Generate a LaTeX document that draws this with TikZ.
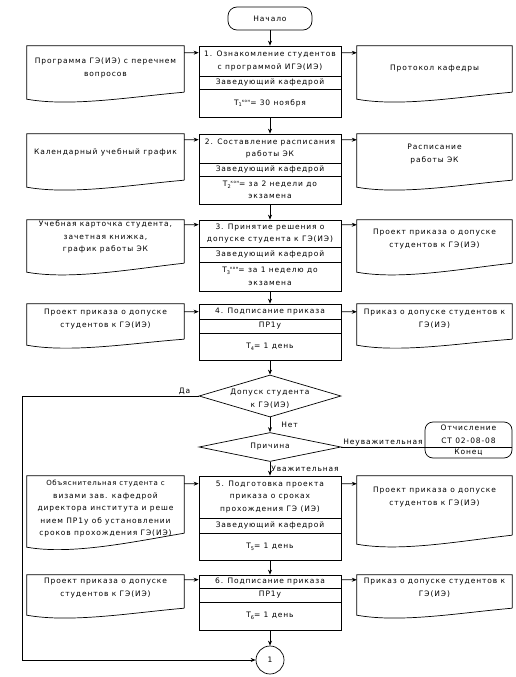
\documentclass[tikz,border=0pt]{standalone}
\usepackage{fontspec}
\setmainfont[LetterSpace=12]{DejaVu Sans}
\usetikzlibrary{arrows.meta,shapes.geometric,calc}
\newcommand\fnt{\fontsize{7.5pt}{12.5pt}\selectfont}
\newcommand\Tk[2]{T\raisebox{-1.8pt}{\fontsize{5pt}{5pt}\selectfont #1}\raisebox{3pt}{\fontsize{4pt}{4pt}\selectfont #2}}
\newcommand\Ts[1]{T\raisebox{-1.8pt}{\fontsize{5pt}{5pt}\selectfont #1}}
% name, top, d1, d2, bottom, title, manager, time
\newcommand\cbox[8]{%
  \node[box, minimum height={#5pt-#2pt}] (#1) at (270,{(#2+#5)/2}) {};
  \draw[ln] (199,#3) -- (341,#3);
  \draw[ln] (199,#4) -- (341,#4);
  \node[txt] (#1t) at (270,{(#2+#3)/2}) {#6};
  \node[txt] (#1m) at (270,{(#3+#4)/2}) {#7};
  \node[txt] (#1d) at (270,{(#4+#5)/2}) {#8};
}
% name, xc, width, top, rbottom, depth, texty, text
\newcommand\doc[8]{%
  \node[docbox, minimum width=#3pt, minimum height={#5pt-#4pt}] (#1) at (#2,{(#4+#5)/2}) {};
  \draw[ln] (#1.south east) -- (#1.north east) -- (#1.north west) -- ($(#1.south west)+(0,#6)$)
     .. controls ($(#1.south west)+(45,#6+8)$) and ($(#1.south east)+(-50,0.6*#6)$) .. (#1.south east);
  \node[txt] (#1t) at (#2,#7) {#8};
}
\newcommand\sidearrows[4]{%
  \draw[arr] ([yshift=-#4pt]#1.north east) -- ([yshift=-#4pt]#2.north west);
  \draw[arr] ([yshift=-#4pt]#2.north east) -- ([yshift=-#4pt]#3.north west);
}
\begin{document}
\begin{tikzpicture}[x=1pt,y=-1pt,
  ln/.style={line width=0.7pt},
  arr/.style={ln,-{Stealth[length=5pt,width=4pt]}},
  box/.style={draw,ln,minimum width=142pt,inner sep=0pt},
  txt/.style={align=center,inner sep=0pt,font=\fnt},
  docbox/.style={inner sep=0pt},
  lbl/.style={inner sep=1pt,font=\fnt}]
\useasboundingbox (0,0) rectangle (516,677);

\node[draw,ln,rounded corners=9pt,minimum width=84pt,minimum height=23pt,inner sep=0pt,font=\fnt] (S) at (270,18.5) {Начало};

\cbox{B1}{46}{76}{89}{117}{1. Ознакомление студентов\\с программой ИГЭ(ИЭ)}{Заведующий кафедрой}{\Tk{1}{кон}= 30 ноября}
\cbox{B2}{134}{163}{176}{204}{2. Составление расписания\\работы ЭК}{Заведующий кафедрой}{\Tk{2}{кон}= за 2 недели до\\экзамена}
\cbox{B3}{220}{247}{262}{291}{3. Принятие решения о\\допуске студента к ГЭ(ИЭ)}{Заведующий кафедрой}{\Tk{3}{кон}= за 1 неделю до\\экзамена}
\cbox{B4}{304}{319}{333}{360}{4. Подписание приказа}{ПР1у}{\Ts{4}= 1 день}
\cbox{B5}{476}{518}{533}{560}{5. Подготовка проекта\\приказа о сроках\\прохождения ГЭ (ИЭ)}{Заведующий кафедрой}{\Ts{5}= 1 день}
\cbox{B6}{575}{588}{602}{630}{6. Подписание приказа}{ПР1у}{\Ts{6}= 1 день}

\doc{L1}{105.5}{157}{46}{92}{7}{68}{Программа ГЭ(ИЭ) с перечнем\\вопросов}
\doc{R1}{434.5}{155}{46}{92}{7}{69}{Протокол кафедры}
\doc{L2}{105.5}{157}{134}{180}{7}{152}{Календарный учебный график}
\doc{R2}{434.5}{155}{134}{180}{7}{154}{Расписание\\работы ЭК}
\doc{L3}{105.5}{157}{220}{263}{9}{237}{Учебная карточка студента,\\зачетная книжка,\\график работы ЭК}
\doc{R3}{434.5}{155}{220}{263}{9}{239}{Проект  приказа о допуске\\студентов к ГЭ(ИЭ)}
\doc{L4}{105.5}{157}{304}{339}{6}{319}{Проект  приказа о допуске\\студентов к ГЭ(ИЭ)}
\doc{R4}{434.5}{155}{304}{339}{6}{319}{Приказ о допуске студентов к\\ГЭ(ИЭ)}
\doc{L5}{105.5}{157}{476}{533}{14}{509}{\fontsize{7pt}{12.5pt}\selectfont\addfontfeature{LetterSpace=9}Объяснительная студента  с\\визами зав. кафедрой\\директора института и реше\\нием ПР1у об установлении\\сроков прохождения ГЭ(ИЭ)}
\doc{R5}{434.5}{155}{476}{535}{9}{497}{Проект приказа о допуске\\студентов к ГЭ(ИЭ)}
\doc{L6}{105.5}{157}{575}{608}{7}{588}{Проект  приказа о допуске\\студентов к ГЭ(ИЭ)}
\doc{R6}{434.5}{155}{575}{608}{7}{588}{Приказ о допуске студентов к\\ГЭ(ИЭ)}

\sidearrows{L1}{B1}{R1}{7}
\sidearrows{L2}{B2}{R2}{6}
\sidearrows{L3}{B3}{R3}{5}
\sidearrows{L4}{B4}{R4}{8}
\sidearrows{L5}{B5}{R5}{8}
\sidearrows{L6}{B6}{R6}{5}

\node[draw,ln,diamond,aspect=3.4,minimum width=142pt,minimum height=42pt,inner sep=0pt] (D1) at (270,396) {};
\node[txt] (D1t) at (270,399) {Допуск студента\\к ГЭ(ИЭ)};
\node[draw,ln,diamond,aspect=4.9,minimum width=142pt,minimum height=29pt,inner sep=0pt] (D2) at (270,447) {};
\node[txt] (D2t) at (270,447) {Причина};

\node[draw,ln,rounded corners=8pt,minimum width=87pt,minimum height=36pt,inner sep=0pt] (E) at (468.5,440) {};
\draw[ln] (425,447) -- (512,447);
\node[txt] (Et) at (468.5,434.5) {Отчисление\\СТ 02-08-08};
\node[txt] (Eb) at (468.5,452.5) {Конец};

\node[draw,ln,circle,minimum size=28pt,inner sep=0pt,font=\fnt] (C1) at (270,660) {1};

\draw[arr] (S.south) -- (B1.north);
\draw[arr] (B1.south) -- (B2.north);
\draw[arr] (B2.south) -- (B3.north);
\draw[arr] (B3.south) -- (B4.north);
\draw[arr] (B4.south) -- (D1.north);
\draw[arr] (D1.south) -- node[lbl,right,xshift=10pt]{Нет} (D2.north);
\draw[arr] (D2.south) -- node[lbl,right]{Уважительная} (B5.north);
\draw[arr] (B5.south) -- (B6.north);
\draw[arr] (B6.south) -- (C1.north);
\draw[ln] (D2.east) -- node[lbl,above]{Неуважительная} (D2.east -| E.west);
\coordinate (bend) at (22,396);
\draw[arr] (D1.west) -- node[lbl,above,pos=0.08]{Да} (D1.west -| bend) |- (C1.west);
\end{tikzpicture}
\end{document}
